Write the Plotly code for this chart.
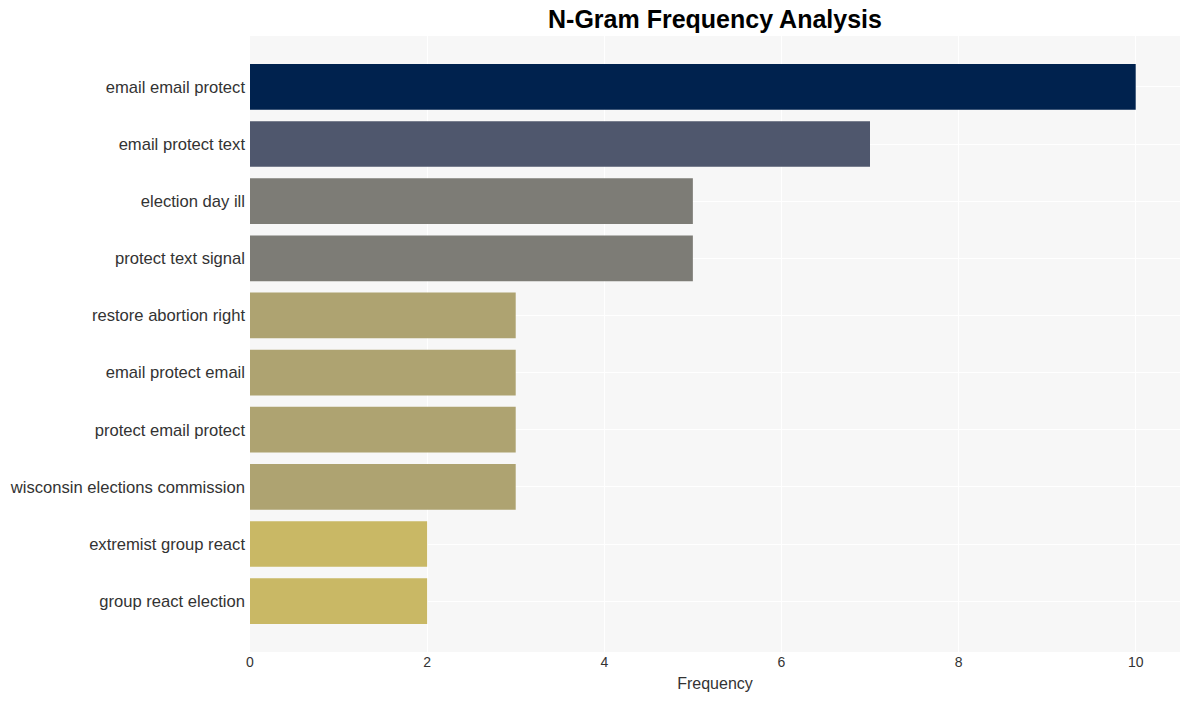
import plotly.graph_objects as go

ngrams = [
    "email email protect",
    "email protect text",
    "election day ill",
    "protect text signal",
    "restore abortion right",
    "email protect email",
    "protect email protect",
    "wisconsin elections commission",
    "extremist group react",
    "group react election",
]
frequencies = [10, 7, 5, 5, 3, 3, 3, 3, 2, 2]
x_ticks = [0, 2, 4, 6, 8, 10]

FONT = "Liberation Sans, Arial, sans-serif"

fig = go.Figure(
    go.Bar(
        x=frequencies,
        y=ngrams,
        orientation="h",
        marker=dict(
            color=frequencies,
            colorscale="Cividis",
            reversescale=True,
            cmin=0,
            cmax=10,
            showscale=False,
            line=dict(width=0),
        ),
        width=0.8,
    )
)

fig.update_layout(
    width=1189,
    height=701,
    margin=dict(l=250, r=9, t=36, b=49),
    paper_bgcolor="white",
    plot_bgcolor="#f7f7f7",
    title=dict(
        text="<b>N-Gram Frequency Analysis</b>",
        x=0.5,
        xref="paper",
        xanchor="center",
        y=0.972,
        yanchor="middle",
        font=dict(family=FONT, size=25, color="black"),
    ),
    font=dict(family=FONT, color="#333333"),
    showlegend=False,
)

fig.update_xaxes(
    range=[0, 10.5],
    tickvals=x_ticks,
    ticktext=[str(v) for v in x_ticks],
    showgrid=True,
    gridcolor="white",
    gridwidth=1,
    zeroline=False,
    showline=False,
    ticks="",
    tickfont=dict(size=14, color="#333333"),
    title=dict(text="Frequency", font=dict(size=16, color="#333333"), standoff=8),
)

fig.update_yaxes(
    categoryorder="array",
    categoryarray=ngrams,
    range=[9.89, -0.89],
    showgrid=True,
    gridcolor="white",
    gridwidth=1,
    zeroline=False,
    showline=False,
    ticks="",
    ticklabelstandoff=4,
    tickfont=dict(size=16.6, color="#333333"),
)

fig.write_html("out.html")
